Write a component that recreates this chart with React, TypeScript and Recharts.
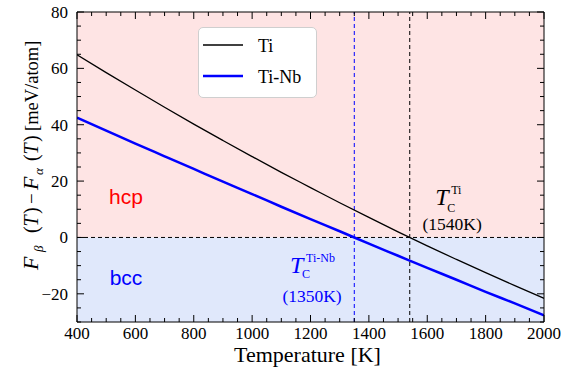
import React from "react";
import {
  LineChart, Line, XAxis, YAxis, ReferenceArea, ReferenceLine, ReferenceDot, Label, Legend,
} from "recharts";

const temps = [400, 500, 600, 700, 800, 900, 1000, 1100, 1200, 1300, 1400, 1500, 1600, 1700, 1800, 1900, 2000];
const tiValues = [64.8, 58.5, 52.3, 46.2, 40.2, 34.4, 28.7, 23.1, 17.7, 12.3, 7.1, 2.0, -3.0, -7.8, -12.5, -17.1, -21.6];
const tiNbValues = [42.5, 37.9, 33.3, 28.8, 24.3, 19.8, 15.4, 10.9, 6.5, 2.2, -2.2, -6.5, -10.8, -15.0, -19.3, -23.4, -27.6];

const seriesNames = ["Ti", "Ti-Nb"];
const seriesColors = ["#000000", "#0000ff"];
const seriesWidths = [1.3, 2.5];
const transitionTemps = [1540, 1350];

const xMajorTicks = [400, 600, 800, 1000, 1200, 1400, 1600, 1800, 2000];
const xMinorTicks = [
  400, 450, 500, 550, 600, 650, 700, 750, 800, 850, 900, 950, 1000, 1050, 1100, 1150, 1200,
  1250, 1300, 1350, 1400, 1450, 1500, 1550, 1600, 1650, 1700, 1750, 1800, 1850, 1900, 1950, 2000,
];
const yMajorTicks = [-20, 0, 20, 40, 60, 80];
const yMinorTicks = [
  -30, -25, -20, -15, -10, -5, 0, 5, 10, 15, 20, 25, 30, 35, 40, 45, 50, 55, 60, 65, 70, 75, 80,
];

const data = temps.map((t, i) => ({ t, ti: tiValues[i], tiNb: tiNbValues[i] }));

const SERIF = "'Liberation Serif', 'Times New Roman', serif";
const SANS = "'Liberation Sans', Arial, sans-serif";
const serifStyle = { fontFamily: SERIF };
const HCP_BG = "#fee4e4";
const BCC_BG = "#e0e8fb";

// one axis per side: tick lines drawn inward by hand, labels only on major ticks
function EdgeTick({ x, y, payload, side, majors, labels }: any) {
  const v = payload.value;
  const major = majors.includes(v);
  const len = major ? 7 : 4;
  let line;
  if (side === "bottom") line = <line x1={x} x2={x} y1={y} y2={y - len} stroke="#000" />;
  else if (side === "top") line = <line x1={x} x2={x} y1={y} y2={y + len} stroke="#000" />;
  else if (side === "left") line = <line x1={x} x2={x + len} y1={y} y2={y} stroke="#000" />;
  else line = <line x1={x} x2={x - len} y1={y} y2={y} stroke="#000" />;
  let text = null;
  if (labels && major) {
    text = side === "bottom" ? (
      <text x={x} y={y + 17} textAnchor="middle" fontSize={17} style={serifStyle} fill="#000">{v}</text>
    ) : (
      <text x={x - 9} y={y + 6} textAnchor="end" fontSize={17} style={serifStyle} fill="#000">
        {v < 0 ? `−${-v}` : v}
      </text>
    );
  }
  return <g>{line}{text}</g>;
}

function TcLabel({ viewBox, sup, temp, color, tx, ty, cy }: any) {
  const { x, y } = viewBox;
  return (
    <g fill={color}>
      <text x={x} y={y} fontSize={24} style={{ fontFamily: SERIF, fontStyle: "italic" }}>T</text>
      <text x={x + 12} y={y + cy} fontSize={12} style={serifStyle}>C</text>
      <text x={x + 16} y={y - 11} fontSize={12} style={serifStyle}>{sup}</text>
      <text x={x + tx} y={y + ty} fontSize={17.5} textAnchor="middle" style={serifStyle}>({temp}K)</text>
    </g>
  );
}

function PhaseLabel({ viewBox, text, color }: any) {
  return (
    <text x={viewBox.x} y={viewBox.y} fill={color} fontSize={21} style={{ fontFamily: SANS }} textAnchor="middle">
      {text}
    </text>
  );
}

// rotated title, pieces placed along the axis (py = where each piece starts, reading upward)
function YTitle({ viewBox }: any) {
  const bx = viewBox.x - 38;
  const pieces = [
    { s: "F", py: 270, size: 22, it: true, sub: false },
    { s: "β", py: 252, size: 13, it: true, sub: true },
    { s: "(", py: 233, size: 20, it: false, sub: false },
    { s: "T", py: 226.5, size: 20, it: true, sub: false },
    { s: ")", py: 214, size: 20, it: false, sub: false },
    { s: "−", py: 204, size: 19, it: false, sub: false },
    { s: "F", py: 190, size: 22, it: true, sub: false },
    { s: "α", py: 175, size: 13, it: true, sub: true },
    { s: "(", py: 161, size: 20, it: false, sub: false },
    { s: "T", py: 154.5, size: 20, it: true, sub: false },
    { s: ")", py: 142, size: 20, it: false, sub: false },
    { s: "[meV/atom]", py: 131, size: 18.5, it: false, sub: false },
  ];
  return (
    <g transform={`translate(${bx}, 0) rotate(-90)`} fill="#000">
      {pieces.map((p, i) => (
        <text key={i} x={-p.py} y={p.sub ? 5 : 0} fontSize={p.size} style={{ fontFamily: SERIF, fontStyle: p.it ? "italic" : "normal" }}>
          {p.s}
        </text>
      ))}
    </g>
  );
}

function LegendBox({ payload }: any) {
  const items = (payload || []).filter((p: any) => seriesNames.includes(p.value));
  return (
    <div
      style={{
        boxSizing: "border-box", width: 119, height: 71, background: "#fff",
        border: "1px solid #cfcfcf", borderRadius: 5,
      }}
    >
      <svg width={117} height={69}>
        {items.map((p: any, i: number) => (
          <g key={p.value}>
            <line x1={4} x2={44} y1={17 + i * 31} y2={17 + i * 31} stroke={p.color} strokeWidth={seriesWidths[i]} />
            <text x={59} y={24 + i * 31} fontSize={18} style={serifStyle} fill="#000">{p.value}</text>
          </g>
        ))}
      </svg>
    </div>
  );
}

export default function App() {
  return (
    <div style={{ position: "absolute", left: 0, top: 0 }}>
      <LineChart width={567} height={374} data={data} margin={{ top: 11, right: 22, bottom: 51, left: 76 }}>
        <ReferenceArea xAxisId="b" yAxisId="l" x1={400} x2={2000} y1={0} y2={80} fill={HCP_BG} fillOpacity={1} stroke="none" />
        <ReferenceArea xAxisId="b" yAxisId="l" x1={400} x2={2000} y1={-30} y2={0} fill={BCC_BG} fillOpacity={1} stroke="none" />
        <ReferenceLine xAxisId="b" yAxisId="l" y={0} stroke="#000" strokeDasharray="4 3" strokeWidth={1} />
        <ReferenceLine xAxisId="b" yAxisId="l" x={transitionTemps[0]} stroke="#000" strokeDasharray="4 3" strokeWidth={1} />
        <ReferenceLine xAxisId="b" yAxisId="l" x={transitionTemps[1]} stroke="#0000ff" strokeDasharray="4 3" strokeWidth={1} />

        <XAxis
          xAxisId="b" dataKey="t" type="number" domain={[400, 2000]} allowDataOverflow
          ticks={xMinorTicks} interval={0} height={1} tickSize={0} tickMargin={0} tickLine={false}
          stroke="#000" tick={(p: any) => <EdgeTick {...p} side="bottom" majors={xMajorTicks} labels />}
        >
          <Label
            content={({ viewBox }: any) => (
              <text x={viewBox.x + viewBox.width / 2 - 3} y={viewBox.y + 40} textAnchor="middle" fontSize={22} style={serifStyle} fill="#000">
                Temperature [K]
              </text>
            )}
          />
        </XAxis>
        <XAxis
          xAxisId="t" orientation="top" dataKey="t" type="number" domain={[400, 2000]} allowDataOverflow
          ticks={xMinorTicks} interval={0} height={1} tickSize={0} tickMargin={0} tickLine={false}
          stroke="#000" tick={(p: any) => <EdgeTick {...p} side="top" majors={xMajorTicks} />}
        />

        <YAxis
          yAxisId="l" type="number" domain={[-30, 80]} allowDataOverflow ticks={yMinorTicks} interval={0}
          width={1} tickSize={0} tickMargin={0} tickLine={false} stroke="#000"
          tick={(p: any) => <EdgeTick {...p} side="left" majors={yMajorTicks} labels />}
        >
          <Label content={(p: any) => <YTitle {...p} />} />
        </YAxis>
        <YAxis
          yAxisId="r" orientation="right" type="number" domain={[-30, 80]} allowDataOverflow ticks={yMinorTicks} interval={0}
          width={1} tickSize={0} tickMargin={0} tickLine={false} stroke="#000"
          tick={(p: any) => <EdgeTick {...p} side="right" majors={yMajorTicks} />}
        />

        <Line xAxisId="b" yAxisId="l" type="monotone" dataKey="ti" name={seriesNames[0]} stroke={seriesColors[0]} strokeWidth={seriesWidths[0]} dot={false} isAnimationActive={false} />
        <Line xAxisId="b" yAxisId="l" type="monotone" dataKey="tiNb" name={seriesNames[1]} stroke={seriesColors[1]} strokeWidth={seriesWidths[1]} dot={false} isAnimationActive={false} />

        <ReferenceDot xAxisId="b" yAxisId="l" x={568} y={11.7} r={0} fill="none" stroke="none"
          label={(p: any) => <PhaseLabel {...p} text="hcp" color="#ff0000" />} />
        <ReferenceDot xAxisId="b" yAxisId="l" x={568} y={-16.9} r={0} fill="none" stroke="none"
          label={(p: any) => <PhaseLabel {...p} text="bcc" color="#0000ff" />} />
        <ReferenceDot xAxisId="b" yAxisId="l" x={1627} y={11.5} r={0} fill="none" stroke="none"
          label={(p: any) => <TcLabel {...p} sup="Ti" temp={transitionTemps[0]} color="#000" tx={17} ty={25} cy={7} />} />
        <ReferenceDot xAxisId="b" yAxisId="l" x={1130} y={-12.6} r={0} fill="none" stroke="none"
          label={(p: any) => <TcLabel {...p} sup="Ti-Nb" temp={transitionTemps[1]} color="#0000ff" tx={22} ty={29} cy={5} />} />

        <Legend layout="horizontal" verticalAlign="middle" align="center"
          wrapperStyle={{ left: 198, top: 27, width: 119, height: 71 }} content={(p: any) => <LegendBox {...p} />} />
      </LineChart>
    </div>
  );
}
